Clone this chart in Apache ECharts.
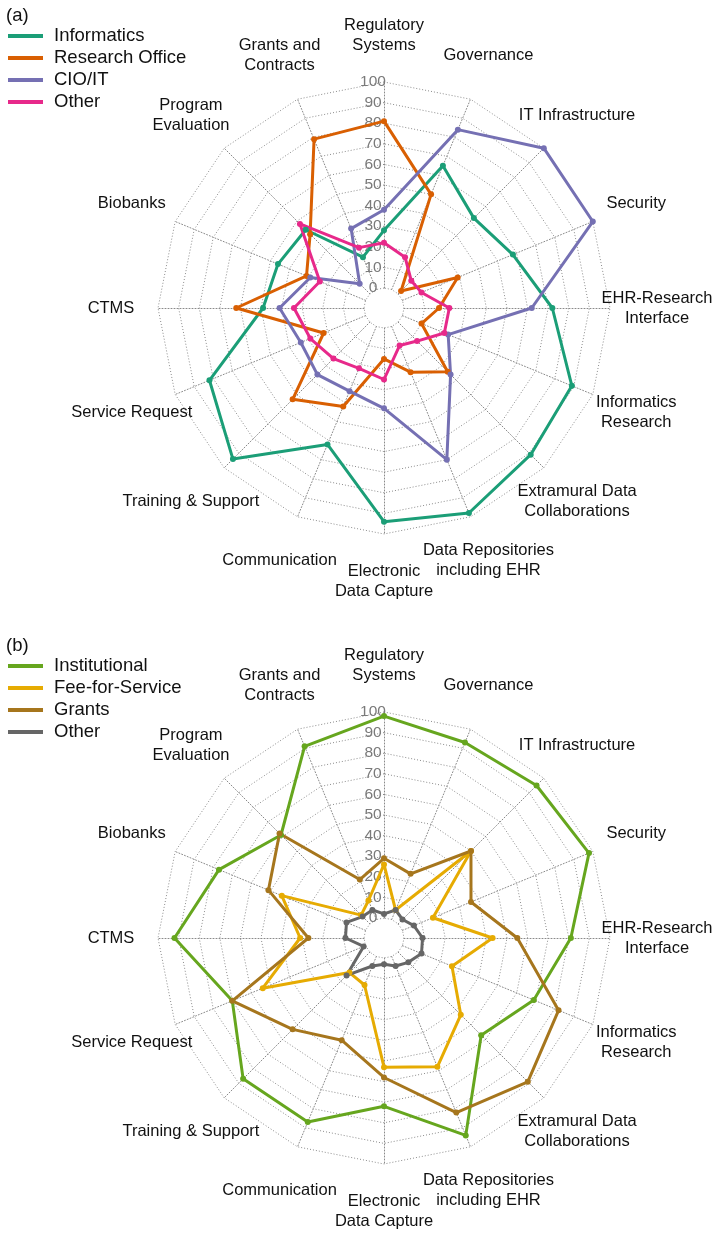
<!DOCTYPE html>
<html>
<head>
<meta charset="utf-8">
<script src="https://cdn.jsdelivr.net/npm/echarts@6/dist/echarts.min.js"></script>
<style>
html,body{margin:0;padding:0;background:#fff;}
#a{position:absolute;left:0;top:0;width:714px;height:630px;}
#b{position:absolute;left:0;top:630px;width:714px;height:603px;}
</style>
</head>
<body>
<div id="a"></div>
<div id="b"></div>
<script>
// Categories in clockwise order starting at the top
const categories = ['Regulatory\nSystems','Governance','IT Infrastructure','Security','EHR-Research\nInterface','Informatics\nResearch','Extramural Data\nCollaborations','Data Repositories\nincluding EHR','Electronic\nData Capture','Communication','Training & Support','Service Request','CTMS','Biobanks','Program\nEvaluation','Grants and\nContracts'];

// Panel (a)
const seriesNamesA = ['Informatics','Research Office','CIO/IT','Other'];
const informatics    = [28, 65, 52, 58, 72, 89, 91, 98, 94, 62, 94, 82, 49, 46, 44, 17];
const researchOffice = [81, 50,  2, 29, 17, 10, 34, 24, 15, 42, 53, 22, 62, 31, 41, 79];
const cioIT          = [38, 84,100,100, 62, 24, 36, 70, 39, 34, 36, 34, 41, 29,  7, 32];
const otherA         = [22, 17,  9, 10, 22, 22, 13, 10, 25, 22, 25, 29, 34, 24, 48, 22];

// Panel (b)
const seriesNamesB = ['Institutional','Fee-for-Service','Grants','Other'];
const institutional = [98, 93, 95, 98, 81, 69, 57, 94, 72, 87, 87, 70, 92, 77, 61, 91];
const feeForService = [26,  5, 50, 16, 43, 26, 43, 58, 53, 15, 14, 54, 31, 44,  6, 10];
const grants        = [29, 24, 50, 36, 55, 82, 89, 82, 58, 44, 53, 70, 27, 51, 62, 21];
const otherB        = [ 2,  5,  3,  6,  9, 10,  7,  5,  3,  5, 16,  1,  9, 10,  5,  5];

const tickLabels = ['0','10','20','30','40','50','60','70','80','90','100'];

const colorsA = ['#1b9e77','#d95f02','#7570b3','#e7298a'];
const colorsB = ['#66a61e','#e6ab02','#a6761d','#666666'];

const FONT = '"Liberation Sans", Arial, Helvetica, sans-serif';

// ECharts radar runs counter-clockwise; reorder so categories run clockwise
const order = [0];
for (let i = categories.length - 1; i >= 1; i--) order.push(i);

function buildOption(panel, names, arrays, colors) {
  const indicator = order.map((i, k) => {
    const ind = { name: categories[i], min: 0, max: 100 };
    if (k === 0) ind.axisLabel = { show: true };
    return ind;
  });
  const gridLine = { color: '#8a8a8a', type: [1, 2], width: 1 };
  return {
    animation: false,
    title: {
      text: panel, left: 1, top: 1,
      textStyle: { fontFamily: FONT, fontSize: 18.5, fontWeight: 'normal', color: '#111' }
    },
    legend: {
      orient: 'vertical', left: 3, top: 20,
      icon: 'rect', itemWidth: 35, itemHeight: 4, itemGap: 0,
      data: names,
      textStyle: { fontFamily: FONT, fontSize: 18.5, color: '#111', lineHeight: 22, padding: [0,0,0,6] }
    },
    radar: {
      center: [384, 308],
      radius: [20, 226],
      startAngle: 90,
      splitNumber: 10,
      shape: 'polygon',
      indicator: indicator,
      axisName: {
        color: '#111', fontFamily: FONT, fontSize: 16.5, lineHeight: 20,
        align: 'center', verticalAlign: 'middle'
      },
      nameGap: 47,
      axisLine: { show: true, lineStyle: gridLine },
      splitLine: { show: true, lineStyle: gridLine },
      splitArea: { show: false },
      axisTick: { show: false },
      axisLabel: {
        show: false, color: '#7a7a7a', fontFamily: FONT, fontSize: 15.5,
        align: 'center', margin: 11,
        formatter: (v) => tickLabels[Math.round(v / 10)] || ''
      }
    },
    series: [{
      type: 'radar',
      symbol: 'circle',
      symbolSize: 6,
      data: arrays.map((arr, j) => ({
        name: names[j],
        value: order.map(i => arr[i]),
        lineStyle: { color: colors[j], width: 3 },
        itemStyle: { color: colors[j] }
      }))
    }]
  };
}

const chartA = echarts.init(document.getElementById('a'), null, { renderer: 'canvas' });
chartA.setOption(buildOption('(a)', seriesNamesA, [informatics, researchOffice, cioIT, otherA], colorsA));
const chartB = echarts.init(document.getElementById('b'), null, { renderer: 'canvas' });
chartB.setOption(buildOption('(b)', seriesNamesB, [institutional, feeForService, grants, otherB], colorsB));
</script>
</body>
</html>
